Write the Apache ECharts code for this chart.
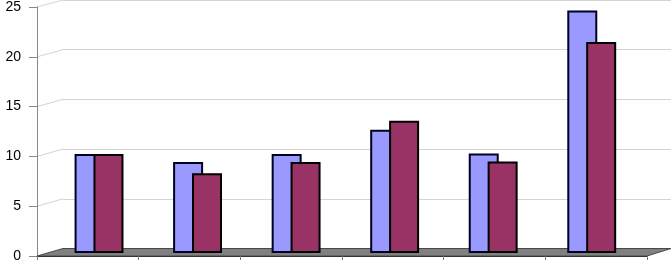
<!DOCTYPE html>
<html>
<head>
<meta charset="utf-8">
<script src="https://cdn.jsdelivr.net/npm/echarts@6/dist/echarts.min.js"></script>
<style>html,body{margin:0;padding:0;background:#fff}#c{width:671px;height:263px}</style>
</head>
<body>
<div id="c"></div>
<script>
const categories = ['1', '2', '3', '4', '5', '6'];
const seriesA = [9.8, 9.0, 9.8, 12.2, 9.85, 24.0];
const seriesB = [9.8, 7.9, 9.0, 13.1, 9.05, 20.9];
const yTicks = [0, 5, 10, 15, 20, 25];

const yMin = yTicks[0], yMax = yTicks[yTicks.length - 1], yStep = yTicks[1] - yTicks[0];
const gridCol = '#d4d4d4';

const chart = echarts.init(document.getElementById('c'), null, {renderer: 'canvas'});
chart.setOption({
  animation: false,
  backgroundColor: '#fff',
  grid: [
    {left: 37, right: 24, top: 5, bottom: 5},          // front plane (axes)
    {left: 63, right: -2, top: -5.25, bottom: 14.5},    // back wall
    {left: 49.75, right: 30, top: 0.5, bottom: 10}      // bars (mid depth)
  ],
  xAxis: [
    {gridIndex: 0, type: 'category', data: categories, boundaryGap: true,
     axisLine: {lineStyle: {color: '#333', width: 1}},
     axisTick: {show: true, length: 4, interval: 0, lineStyle: {color: '#777'}},
     axisLabel: {show: false}, splitLine: {show: false}, z: 5},
    {gridIndex: 1, type: 'category', data: categories, show: false},
    {gridIndex: 2, type: 'category', data: categories, show: false}
  ],
  yAxis: [
    {gridIndex: 0, type: 'value', min: yMin, max: yMax, interval: yStep,
     axisLine: {show: true, lineStyle: {color: '#888'}},
     axisTick: {show: true, length: 8, lineStyle: {color: '#888'}},
     axisLabel: {margin: 16, color: '#000', fontSize: 14, fontFamily: 'Liberation Sans, Arial, sans-serif'},
     splitLine: {show: false}},
    {gridIndex: 1, type: 'value', min: yMin, max: yMax, interval: yStep,
     axisLine: {show: false}, axisTick: {show: false}, axisLabel: {show: false},
     splitLine: {show: true, lineStyle: {color: gridCol, width: 1}}},
    {gridIndex: 2, type: 'value', min: yMin, max: yMax, show: false, splitLine: {show: false}}
  ],
  series: [
    {type: 'bar', xAxisIndex: 2, yAxisIndex: 2, data: seriesA, barWidth: 30, barGap: '-37%', z: 3,
     itemStyle: {color: '#9999FF', borderColor: '#000022', borderWidth: 2}},
    {type: 'bar', xAxisIndex: 2, yAxisIndex: 2, data: seriesB, barWidth: 30, z: 3,
     itemStyle: {color: '#993366', borderColor: '#000', borderWidth: 2}}
  ]
});

function rectOf(i) {
  return chart.getModel().getComponent('grid', i).coordinateSystem.getRect();
}
const f = rectOf(0), b = rectOf(1);
const elements = [];
elements.push({
  type: 'polygon', z: 1,
  shape: {points: [[f.x, f.y + f.height], [b.x, b.y + b.height], [b.x + b.width, b.y + b.height], [f.x + f.width, f.y + f.height]]},
  style: {fill: '#808080', stroke: '#4a4a4a', lineWidth: 1}
});
yTicks.slice(1).forEach(function (v) {
  const yf = chart.convertToPixel({yAxisIndex: 0}, v);
  const yb = chart.convertToPixel({yAxisIndex: 1}, v);
  elements.push({type: 'line', z: 0, shape: {x1: f.x, y1: yf, x2: b.x, y2: yb},
    style: {stroke: gridCol, lineWidth: 1}});
});
chart.setOption({graphic: {elements: elements}});
</script>
</body>
</html>
